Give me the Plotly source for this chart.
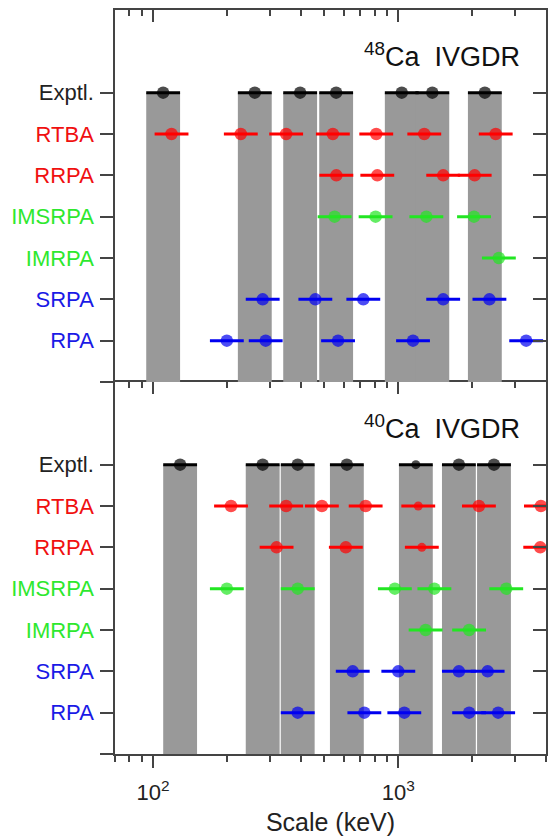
import math
import plotly.graph_objects as go

# ---------------- data ----------------
ROWS = ["RPA", "SRPA", "IMRPA", "IMSRPA", "RRPA", "RTBA", "Exptl."]

# 48Ca IVGDR: characteristic scales (keV)
CA48_EXPTL = [110, 260, 398, 558, 1033, 1376, 2253]
CA48_RTBA = [119, 228, 349, 541, 813, 1276, 2495]
CA48_RRPA = [559, 821, 1524, 2048]
CA48_IMSRPA = [550, 808, 1301, 2035]
CA48_IMRPA = [2570]
CA48_SRPA = [280, 459, 720, 1524, 2352]
CA48_RPA = [200, 288, 568, 1148, 3321]

# 40Ca IVGDR: characteristic scales (keV)
CA40_EXPTL = [129, 280, 389, 617, 1179, 1766, 2455]
CA40_RTBA = [208, 349, 488, 736, 1206, 2131, 3814]
CA40_RRPA = [319, 611, 1247, 3789]
CA40_IMSRPA = [200, 389, 968, 1403, 2754]
CA40_IMRPA = [1292, 1944]
CA40_SRPA = [652, 1000, 1766, 2313]
CA40_RPA = [389, 727, 1058, 1944, 2553]

# half width of every bar, in decades
HALF_WIDTH_DEC = 0.069

X_MIN, X_MAX = 70, 4000
MAJOR_TICKS = [100, 1000]
MAJOR_TEXT = ["10<sup>2</sup>", "10<sup>3</sup>"]
MINOR_TICKS = [70, 80, 90, 200, 300, 400, 500, 600, 700, 800, 900, 2000, 3000, 4000]

# ---------------- styles ----------------
ROW_COLORS = {"RPA": "#0000f0", "SRPA": "#0000f0", "IMRPA": "#22e622",
              "IMSRPA": "#22e622", "RRPA": "#ff0000", "RTBA": "#ff0000",
              "Exptl.": "#000000"}
LABEL_COLORS = {"RPA": "#1a1ae6", "SRPA": "#1a1ae6", "IMRPA": "#2ee82e",
                "IMSRPA": "#2ee82e", "RRPA": "#f01010", "RTBA": "#f01010",
                "Exptl.": "#222222"}
# markers drawn smaller in the reference (panel, row, index)
SMALL_MARKERS = {("40", "Exptl.", 4), ("40", "RTBA", 4), ("40", "RRPA", 2)}
AX = "#444444"
BAND = "#999999"
FONT = "Liberation Sans, Arial, sans-serif"

F = 10 ** HALF_WIDTH_DEC

panels = [
    ("x2", "y2", {"Exptl.": CA48_EXPTL, "RTBA": CA48_RTBA, "RRPA": CA48_RRPA,
                  "IMSRPA": CA48_IMSRPA, "IMRPA": CA48_IMRPA, "SRPA": CA48_SRPA,
                  "RPA": CA48_RPA}, "48"),
    ("x", "y", {"Exptl.": CA40_EXPTL, "RTBA": CA40_RTBA, "RRPA": CA40_RRPA,
                "IMSRPA": CA40_IMSRPA, "IMRPA": CA40_IMRPA, "SRPA": CA40_SRPA,
                "RPA": CA40_RPA}, "40"),
]

fig = go.Figure()
shapes = []
annotations = []

for xa, ya, series, mass in panels:
    # experimental bands
    for v in series["Exptl."]:
        shapes.append(dict(type="rect", xref=xa, yref=ya, x0=v / F, x1=v * F,
                           y0=0, y1=ROWS.index("Exptl.") + 1,
                           fillcolor=BAND, line=dict(width=0), layer="below"))
    for name in ["RPA", "SRPA", "IMRPA", "IMSRPA", "RRPA", "RTBA", "Exptl."]:
        vals = series[name]
        yrow = ROWS.index(name) + 1
        col = ROW_COLORS[name]
        sizes = [9 if (mass, name, i) in SMALL_MARKERS else 12.5
                 for i in range(len(vals))]
        fig.add_trace(go.Scatter(
            x=vals, y=[yrow] * len(vals), mode="markers",
            xaxis=xa, yaxis=ya, showlegend=False, hoverinfo="x",
            marker=dict(size=sizes, color=col, line=dict(width=0)),
            error_x=dict(type="data", symmetric=False,
                         array=[v * (F - 1) for v in vals],
                         arrayminus=[v * (1 - 1 / F) for v in vals],
                         thickness=3, width=0, color=col),
        ))
    annotations.append(dict(
        text="<sup>%s</sup>Ca&nbsp; IVGDR" % mass, xref="paper", yref=ya,
        x=0.945, y=7.92, xanchor="right", yanchor="middle", showarrow=False,
        font=dict(family=FONT, size=27, color="#111111")))

# dummy traces so that the mirror axes (inside ticks) get drawn
for xa, ya in [("x3", "y"), ("x", "y3"), ("x4", "y2"), ("x2", "y4")]:
    fig.add_trace(go.Scatter(x=[None], y=[None], xaxis=xa, yaxis=ya,
                             showlegend=False, hoverinfo="skip"))

xr = [math.log10(X_MIN), math.log10(X_MAX)]
ticktext_y = [""] + ['<span style="color:%s">%s</span>' % (LABEL_COLORS[r], r) for r in ROWS]
tickvals_y = list(range(0, len(ROWS) + 1))


def xbase(**kw):
    d = dict(type="log", range=xr, showgrid=False, zeroline=False,
             showline=True, linecolor=AX, linewidth=1.5, automargin=False,
             tickvals=MAJOR_TICKS, tickcolor=AX, tickwidth=1.5)
    d.update(kw)
    return d


def ybase(**kw):
    d = dict(range=[0, 9], showgrid=False, zeroline=False, showline=True,
             linecolor=AX, linewidth=1.5, tickcolor=AX, tickwidth=1.5,
             automargin=False)
    d.update(kw)
    return d


MINOR_IN = dict(tickvals=MINOR_TICKS, ticks="inside", ticklen=6,
                tickwidth=1.5, tickcolor=AX, showgrid=False)

fig.update_layout(
    template="none",
    width=549, height=838,
    margin=dict(l=115, r=3, t=10, b=84),
    plot_bgcolor="white", paper_bgcolor="white",
    font=dict(family=FONT, color="#222222"),
    xaxis=xbase(anchor="y", domain=[0, 1], ticks="outside", ticklen=12,
                ticktext=MAJOR_TEXT, tickfont=dict(size=22, color="#222222"),
                ticklabelstandoff=6,
                minor=dict(tickvals=MINOR_TICKS, ticks="outside", ticklen=6,
                           tickwidth=1.5, tickcolor=AX, showgrid=False),
                title=dict(text="Scale (keV)", font=dict(size=25, color="#222222"),
                           standoff=9)),
    xaxis2=xbase(anchor="y2", domain=[0, 1], ticks="", showticklabels=False,
                 showline=False),
    xaxis3=xbase(anchor="y", overlaying="x", side="top", ticks="inside",
                 ticklen=12, showticklabels=False, minor=MINOR_IN),
    xaxis4=xbase(anchor="y2", overlaying="x2", side="top", ticks="inside",
                 ticklen=12, showticklabels=False, minor=MINOR_IN),
    yaxis=ybase(anchor="x", domain=[0, 0.5], tickvals=tickvals_y,
                ticktext=ticktext_y, ticks="outside", ticklen=13,
                ticklabelstandoff=2, tickfont=dict(size=22)),
    yaxis2=ybase(anchor="x2", domain=[0.5, 1], tickvals=tickvals_y,
                 ticktext=ticktext_y, ticks="outside", ticklen=13,
                 ticklabelstandoff=2, tickfont=dict(size=22)),
    yaxis3=ybase(anchor="x", overlaying="y", side="right", ticks="inside",
                 ticklen=13, tickvals=tickvals_y[1:], showticklabels=False),
    yaxis4=ybase(anchor="x2", overlaying="y2", side="right", ticks="inside",
                 ticklen=13, tickvals=tickvals_y[1:], showticklabels=False),
    shapes=shapes,
    annotations=annotations,
)

fig.write_html("out.html", config={"displayModeBar": False},
               post_script="document.body.style.margin='0';")
